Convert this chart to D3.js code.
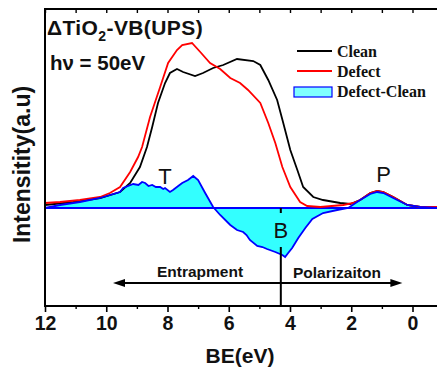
<!DOCTYPE html>
<html>
<head>
<meta charset="utf-8">
<script src="https://cdn.jsdelivr.net/npm/d3@7"></script>
<style>
  html, body { margin: 0; padding: 0; background: #fff; }
  svg { display: block; }
</style>
</head>
<body>
<svg id="chart" width="437" height="367"></svg>
<script>
// ---------------- DATA ----------------
const cleanBE = [12.00, 11.08, 10.20, 9.55, 9.22, 8.90, 8.67, 8.50, 8.31, 8.08, 7.92, 7.69, 7.49, 7.10, 6.84, 6.51, 6.18, 5.73, 5.20, 4.97, 4.71, 4.42, 4.22, 3.99, 3.76, 3.57, 3.24, 2.92, 2.36, 2.03, 1.71, 1.38, 1.15, 0.95, 0.63, 0.17, -0.25, -0.81];
const cleanI  = [3, 6, 10, 16, 25, 41, 61, 81, 105, 125, 135, 139, 136, 132, 135, 140, 143, 149, 147, 143, 128, 108, 85, 58, 38, 21, 11, 8, 5, 4, 8, 15, 17, 16, 11, 3, 1, 1];

const defectBE = [12.00, 11.51, 10.86, 10.20, 9.88, 9.55, 9.22, 8.96, 8.83, 8.57, 8.24, 7.98, 7.69, 7.52, 7.20, 6.93, 6.61, 6.28, 5.95, 5.63, 5.37, 4.97, 4.71, 4.48, 4.25, 3.99, 3.67, 3.44, 3.01, 2.26, 1.93, 1.71, 1.38, 1.15, 0.95, 0.63, 0.17, -0.25, -0.81];
const defectI  = [5, 6, 8, 11, 15, 21, 36, 51, 61, 91, 121, 145, 158, 163, 165, 156, 145, 139, 130, 125, 118, 105, 85, 65, 41, 21, 6, 2, 1, 3, 5, 8, 15, 17, 16, 11, 3, 1, 1];

const diffBE = [12.00, 11.51, 10.86, 10.20, 9.55, 9.45, 9.12, 8.95, 8.83, 8.73, 8.62, 8.50, 8.38, 8.24, 8.14, 8.08, 7.92, 7.82, 7.65, 7.52, 7.33, 7.16, 7.00, 6.77, 6.51, 6.28, 5.95, 5.73, 5.53, 5.42, 5.31, 5.07, 4.90, 4.75, 4.48, 4.25, 4.16, 4.06, 3.93, 3.73, 3.50, 3.27, 2.92, 2.46, 2.10, 1.71, 1.38, 1.15, 0.95, 0.63, 0.17, -0.25, -0.81];
const diffI  = [0, 3, 6, 10, 16, 20, 24, 23, 26, 25, 22, 23, 21, 21, 19, 20, 16, 18, 22, 25, 28, 32, 28, 15, 1, -7, -17, -22, -24, -27, -32, -38, -39, -41, -44, -47, -49, -45, -40, -30, -20, -11, -5, -2, 0, 8, 14, 16, 15, 10, 3, 1, 0];

const xTicks = [12, 10, 8, 6, 4, 2, 0];
const xMinorTicks = [11, 9, 7, 5, 3, 1];
const seriesNames = ["Clean", "Defect", "Defect-Clean"];
const markerBE = 4.3;

// ---------------- SETUP ----------------
const svg = d3.select("#chart");
const FONT = "'Liberation Sans', Arial, sans-serif";
const SERIF = "'Liberation Serif', 'Times New Roman', serif";

const x = d3.scaleLinear().domain([12, -0.8]).range([45, 437]);
const y = d3.scaleLinear().domain([-98, 199]).range([306, 9]);

const zip = (a, b) => a.map((v, i) => [v, b[i]]);
const line = d3.line().x(d => x(d[0])).y(d => y(d[1]));
const area = d3.area().x(d => x(d[0])).y0(y(0)).y1(d => y(d[1]));

// diff fill
svg.append("path").datum(zip(diffBE, diffI))
  .attr("d", area).attr("fill", "#33FFFF").attr("stroke", "none");

// baseline
svg.append("line").attr("x1", x(12)).attr("x2", x(-0.8))
  .attr("y1", y(0)).attr("y2", y(0))
  .attr("stroke", "#0000FF").attr("stroke-width", 2);

// clean & defect
svg.append("path").datum(zip(cleanBE, cleanI)).attr("d", line)
  .attr("fill", "none").attr("stroke", "#000").attr("stroke-width", 1.8);
svg.append("path").datum(zip(defectBE, defectI)).attr("d", line)
  .attr("fill", "none").attr("stroke", "#FF0000").attr("stroke-width", 1.8);
// diff line
svg.append("path").datum(zip(diffBE, diffI)).attr("d", line)
  .attr("fill", "none").attr("stroke", "#0000FF").attr("stroke-width", 1.8);

// ---------------- AXES ----------------
const bottomAxis = svg.append("g").attr("transform", `translate(0,${y.range()[0]})`)
  .call(d3.axisBottom(x).tickValues(xTicks).tickSize(6).tickPadding(4).tickFormat(d3.format("d")));
bottomAxis.select(".domain").attr("stroke-width", 2).attr("d", `M${x.range()[0]},0H${x.range()[1]}`);
bottomAxis.selectAll(".tick line").attr("stroke-width", 1.6);
bottomAxis.selectAll(".tick text").attr("font-family", FONT).attr("font-weight", "bold")
  .attr("font-size", 19.5).attr("fill", "#111");
svg.append("g").attr("transform", `translate(0,${y.range()[0]})`)
  .call(d3.axisBottom(x).tickValues(xMinorTicks).tickSize(3).tickFormat(""))
  .call(g => g.select(".domain").remove())
  .selectAll(".tick line").attr("stroke-width", 1.4);

const topAxis = svg.append("g").attr("transform", `translate(0,${y.range()[1]})`)
  .call(d3.axisTop(x).tickValues(xTicks.concat(xMinorTicks)).tickSize(-4).tickFormat(""));
topAxis.select(".domain").attr("stroke-width", 2).attr("d", `M${x.range()[0]},0H${x.range()[1]}`);
topAxis.selectAll(".tick line").attr("stroke-width", 1.4);

// left frame
svg.append("line").attr("x1", x(12)).attr("x2", x(12))
  .attr("y1", y.range()[1] - 1).attr("y2", y.range()[0] + 1)
  .attr("stroke", "#000").attr("stroke-width", 2);

// ---------------- ANNOTATIONS ----------------
svg.append("line").attr("x1", x(markerBE)).attr("x2", x(markerBE))
  .attr("y1", y(0)).attr("y2", y(-5))
  .attr("stroke", "#000").attr("stroke-width", 2);
svg.append("line").attr("x1", x(markerBE)).attr("x2", x(markerBE))
  .attr("y1", y(-39)).attr("y2", y.range()[0])
  .attr("stroke", "#000").attr("stroke-width", 2);

const arrowY = y(-75);
const arrowL = x(9.78), arrowR = x(0.33);
svg.append("line").attr("x1", arrowL + 6).attr("x2", arrowR - 6)
  .attr("y1", arrowY).attr("y2", arrowY).attr("stroke", "#000").attr("stroke-width", 1.8);
svg.append("path").attr("d", `M${arrowL},${arrowY}L${arrowL + 12},${arrowY - 4}L${arrowL + 12},${arrowY + 4}Z`).attr("fill", "#000");
svg.append("path").attr("d", `M${arrowR},${arrowY}L${arrowR - 12},${arrowY - 4}L${arrowR - 12},${arrowY + 4}Z`).attr("fill", "#000");

svg.append("text").attr("x", 157).attr("y", 277).text("Entrapment")
  .attr("font-family", FONT).attr("font-weight", "bold").attr("font-size", 15.5).attr("fill", "#111");
svg.append("text").attr("x", 293).attr("y", 278).text("Polarizaiton")
  .attr("font-family", FONT).attr("font-weight", "bold").attr("font-size", 15.5).attr("fill", "#111");

const peakLabels = [["T", 8.08, 184], ["B", 4.3, 238], ["P", 0.94, 182]];
svg.selectAll(".plab").data(peakLabels).join("text").attr("class", "plab")
  .attr("x", d => x(d[1])).attr("y", d => d[2]).attr("text-anchor", "middle")
  .text(d => d[0]).attr("font-family", FONT).attr("font-size", 22).attr("fill", "#111");

const title = svg.append("text").attr("x", 47).attr("y", 35)
  .attr("font-family", FONT).attr("font-weight", "bold").attr("font-size", 21)
  .attr("letter-spacing", 0.4).attr("fill", "#111");
title.append("tspan").text("ΔTiO");
title.append("tspan").text("2").attr("font-size", 14).attr("dy", 6);
title.append("tspan").text("-VB(UPS)").attr("dy", -6);

svg.append("text").attr("x", 50).attr("y", 70).text("hν = 50eV")
  .attr("font-family", FONT).attr("font-weight", "bold").attr("font-size", 20.5).attr("fill", "#111");

svg.append("text").attr("x", 240).attr("y", 363).attr("text-anchor", "middle").text("BE(eV)")
  .attr("font-family", FONT).attr("font-weight", "bold").attr("font-size", 21).attr("fill", "#111");
svg.append("text").attr("transform", "translate(30,164.5) rotate(-90)").attr("text-anchor", "middle")
  .text("Intensitity(a.u)")
  .attr("font-family", FONT).attr("font-weight", "bold").attr("font-size", 23).attr("fill", "#111");

// ---------------- LEGEND ----------------
const leg = svg.append("g");
leg.append("line").attr("x1", 297).attr("x2", 332).attr("y1", 51).attr("y2", 51)
  .attr("stroke", "#000").attr("stroke-width", 2);
leg.append("line").attr("x1", 297).attr("x2", 332).attr("y1", 71).attr("y2", 71)
  .attr("stroke", "#FF0000").attr("stroke-width", 2);
leg.append("rect").attr("x", 294).attr("y", 87).attr("width", 38).attr("height", 10)
  .attr("fill", "#80FFFF").attr("stroke", "#0000FF").attr("stroke-width", 1.2);
const legY = [57, 77, 97];
leg.selectAll(".legtext").data(seriesNames).join("text").attr("class", "legtext")
  .attr("x", 337).attr("y", (d, i) => legY[i]).text(d => d)
  .attr("font-family", SERIF).attr("font-weight", "bold").attr("font-size", 16).attr("fill", "#111");
</script>
</body>
</html>
